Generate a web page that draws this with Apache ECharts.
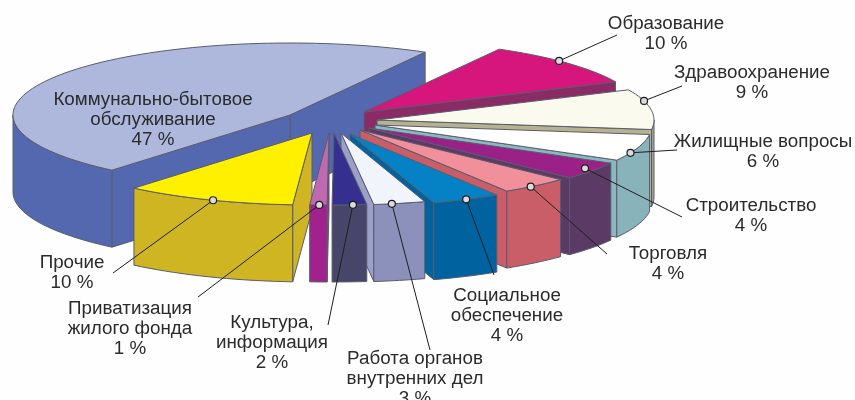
<!DOCTYPE html>
<html>
<head>
<meta charset="utf-8">
<style>
  html, body { margin: 0; padding: 0; background: #fff; }
  #main { width: 855px; height: 400px; }
</style>
<script src="https://cdn.jsdelivr.net/npm/echarts@6/dist/echarts.min.js"></script>
</head>
<body>
<div id="main"></div>
<script>
// данные, против часовой стрелки от дальнего края большого сектора
const categories = [
  'Коммунально-бытовое\nобслуживание', 'Прочие', 'Приватизация\nжилого фонда',
  'Культура,\nинформация', 'Работа органов\nвнутренних дел', 'Социальное\nобеспечение',
  'Торговля', 'Строительство', 'Жилищные вопросы', 'Здравоохранение', 'Образование'
]
const shares = [47, 10, 1, 2, 3, 4, 4, 4, 6, 9, 10]

// цвета: верх, внешняя стенка, боковая стенка
const topColors = ['#aeb8dc', '#fff000', '#bf69b1', '#35308f', '#f1f5fb', '#0582c6', '#f18f9b', '#9b2088', '#ffffff', '#fbfaee', '#d6157d']
const wallColors = ['#5468b0', '#cfb522', '#a1228c', '#47466a', '#8b91bb', '#00629e', '#c95d68', '#5b3b66', '#89b3bb', '#a3a48f', '#8b2b66']
const sideColors = ['#5468b0', '#cfb522', '#a1228c', '#47466a', '#9aa0c8', '#00629e', '#c95d68', '#5b3b66', '#89b9c0', '#b6b18e', '#8b2b66']

// геометрия
const startAngle = 60.8
const rx = 277
const ry = 72
const depth = 77
const centerX = 340
const centerY = 125
// смещение сектора от центра (выдвижение), px
const offsetX = [-50, -28, -11, -6, 1, 10, 20, 29, 35, 37, 24]
const offsetY = [-10, 8, 8, 8, 8, 9, 5, 3, 0, -5, -13]
// порядок отрисовки, дальние раньше
const drawRank = [0, 8, 9, 9, 7, 6, 5, 4, 3, 2, 1]

// выноски
const dotFrac = [0, 0.53, 0.55, 0.6, 0.35, 0.5, 0.42, 0.55, 0.3, 0.71, 0.567]
const dotScale = [0, 1, 1, 1, 1, 1, 1, 0.96, 1, 1, 1]
const lineEndX = [null, 113, 198, 328, 430, 494, 607, 682, 677, 682, 617]
const lineEndY = [null, 273, 297, 325, 350, 275, 254, 217, 150, 86, 35]
const labelX = [153, 72, 130, 272, 415, 507, 668, 751, 763, 752, 666]
const labelY = [120, 273, 329, 343, 379, 316, 264, 216, 152, 83, 34]

const rad = (a) => (a * Math.PI) / 180
const rimPoint = (ox, oy, a, k = 1) => [ox + rx * k * Math.cos(rad(a)), oy - ry * k * Math.sin(rad(a))]
const arcPoints = (ox, oy, a0, a1) => {
  const pts = []
  const n = Math.max(2, Math.ceil(Math.abs(a1 - a0) / 2))
  for (let i = 0; i <= n; i++) pts.push(rimPoint(ox, oy, a0 + ((a1 - a0) * i) / n))
  return pts
}
const edge = { stroke: '#5a5c6e', lineWidth: 1, lineJoin: 'round' }
const poly = (points, fill, z2) => ({
  type: 'polygon',
  z2,
  shape: { points },
  style: Object.assign({ fill }, edge)
})
const radialWall = (ox, oy, a, fill, z2) => {
  const p = rimPoint(ox, oy, a)
  return poly([[ox, oy], p, [p[0], p[1] + depth], [ox, oy + depth]], fill, z2)
}

const total = shares.reduce((s, v) => s + v, 0)
const cumulative = []
shares.reduce((s, v, i) => ((cumulative[i] = s), s + v), 0)

const renderSlice = (params, api) => {
  const i = params.dataIndex
  const a0 = startAngle + (cumulative[i] / total) * 360
  const a1 = a0 + (api.value(0) / total) * 360
  const ox = centerX + offsetX[i]
  const oy = centerY + offsetY[i]
  const z = drawRank[i] * 10
  const children = []

  // стенки вдоль радиусов, только видимые
  if (Math.cos(rad(a0)) > 0) children.push(radialWall(ox, oy, a0, sideColors[i], z + 1))
  if (Math.cos(rad(a1)) < 0) children.push(radialWall(ox, oy, a1, sideColors[i], z + 1))

  // внешняя стенка, нижняя половина эллипса
  const w0 = Math.max(a0, 180)
  const w1 = Math.min(a1, 360)
  if (w1 > w0) {
    const arc = arcPoints(ox, oy, w0, w1)
    const low = arc.map((p) => [p[0], p[1] + depth]).reverse()
    children.push(poly(arc.concat(low), wallColors[i], z + 2))
  }

  // верх сектора
  children.push(poly([[ox, oy]].concat(arcPoints(ox, oy, a0, a1)), topColors[i], z + 3))

  // выноска с точкой
  if (lineEndX[i] !== null) {
    const d = rimPoint(ox, oy, a0 + (a1 - a0) * dotFrac[i], dotScale[i])
    children.push({
      type: 'line',
      z2: 200,
      shape: { x1: d[0], y1: d[1], x2: lineEndX[i], y2: lineEndY[i] },
      style: { stroke: '#1e1e1e', lineWidth: 1 }
    })
    children.push({
      type: 'circle',
      z2: 201,
      shape: { cx: d[0], cy: d[1], r: 3.5 },
      style: { fill: '#dcdcdc', stroke: '#1e1e1e', lineWidth: 1.2 }
    })
  }

  children.push({
    type: 'text',
    z2: 210,
    style: {
      x: labelX[i],
      y: labelY[i],
      text: categories[i] + '\n' + api.value(0) + ' %',
      align: 'center',
      verticalAlign: 'middle',
      fill: '#2b2b2d',
      font: '18.8px "Liberation Sans", Arial, sans-serif',
      lineHeight: 20
    }
  })
  return { type: 'group', children }
}

const myChart = echarts.init(document.getElementById('main'), null, { renderer: 'canvas' })
myChart.setOption({
  animation: false,
  backgroundColor: '#fefefe',
  series: [
    {
      type: 'custom',
      coordinateSystem: 'none',
      silent: true,
      renderItem: renderSlice,
      data: shares.map((v) => [v])
    }
  ]
})
</script>
</body>
</html>
